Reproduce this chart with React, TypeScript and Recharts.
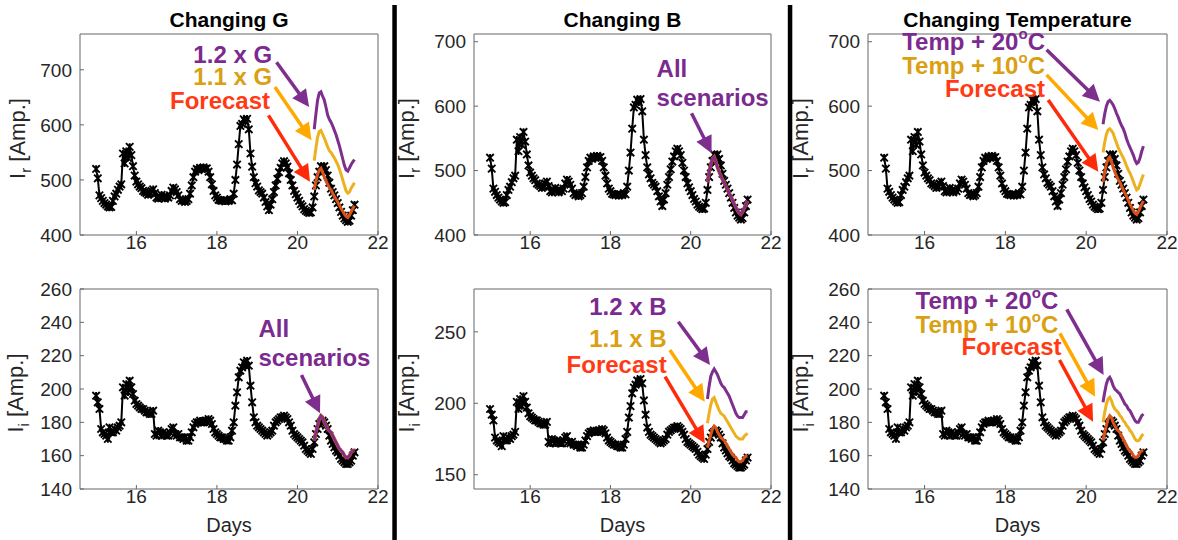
import React from 'react';
import { LineChart, Line, XAxis, YAxis, ReferenceDot, ReferenceLine } from 'recharts';

// ---------------- data ----------------
const START_DAY = 15;
const SAMPLES_PER_DAY = 24;
const FORECAST_START_INDEX = 130;

const X_TICKS = [16, 18, 20, 22];
const IR_TICKS = [400, 500, 600, 700];
const II_TICKS = [140, 160, 180, 200, 220, 240, 260];
const II_TICKS_B = [150, 200, 250];

// measured real current I_r (hourly samples from day 15)
const IR_MEASURED = [
  520, 503, 472, 467, 462, 458, 455, 452, 450, 451, 462, 470, 475, 482, 488, 492, 548, 530, 552, 540, 560, 545, 525, 508,
  497, 492, 488, 485, 480, 478, 476, 473, 475, 480, 483, 476, 468, 466, 470, 473, 468, 466, 470, 468, 472, 480, 486, 483,
  478, 472, 465, 462, 463, 460, 462, 465, 475, 490, 505, 515, 520, 518, 522, 520, 523, 520, 521, 515, 505, 492, 480, 472,
  468, 464, 463, 462, 463, 461, 463, 462, 465, 463, 475, 500, 528, 565, 598, 602, 610, 606, 611, 592, 548, 524, 505, 494,
  488, 481, 478, 475, 468, 460, 452, 445, 455, 465, 478, 490, 502, 514, 522, 530, 534, 530, 524, 512, 500, 490, 480, 474,
  468, 462, 456, 452, 447, 444, 442, 440, 441, 450, 470, 490, 505, 515, 525, 522, 525, 518, 508, 495, 484, 478, 472, 465,
  458, 450, 442, 435, 430, 427, 424, 426, 435, 445, 455,
];

// measured imaginary current I_i
const II_MEASURED = [
  196, 192, 188, 176, 174, 173, 172, 170, 177, 174, 174, 176, 175, 177, 178, 180, 201, 196, 203, 198, 205, 201, 197, 193,
  191, 190, 189, 188, 188, 187, 186, 186, 185, 185, 187, 173, 172, 175, 174, 172, 174, 173, 172, 172, 174, 176, 177, 173,
  172, 173, 171, 171, 170, 171, 169, 169, 171, 174, 177, 179, 180, 180, 181, 180, 180, 181, 180, 182, 181, 179, 176, 174,
  173, 172, 171, 171, 170, 170, 169, 169, 171, 175, 180, 190, 198, 207, 211, 213, 216, 214, 217, 214, 202, 192, 183, 180,
  178, 177, 176, 175, 174, 173, 172, 173, 174, 175, 178, 180, 181, 182, 183, 183, 184, 183, 182, 180, 178, 175, 173, 172,
  171, 170, 169, 168, 166, 164, 163, 162, 161, 164, 168, 173, 176, 179, 180, 181, 180, 178, 176, 172, 169, 167, 165, 163,
  162, 160, 158, 157, 156, 155, 155, 156, 157, 160, 162,
];

// forecast scenarios (hourly, starting at sample FORECAST_START_INDEX)
const IR_FORECAST = [482, 498, 510, 518, 521, 514, 505, 498, 492, 486, 482, 476, 470, 465, 460, 454, 448, 443, 438, 434, 432, 436, 442, 448, 453];
const IR_G11 = [535, 558, 578, 588, 590, 583, 576, 568, 560, 553, 550, 545, 540, 534, 528, 520, 510, 500, 490, 480, 476, 478, 485, 490, 495];
const IR_G12 = [592, 620, 645, 658, 660, 652, 645, 632, 618, 610, 605, 598, 590, 582, 572, 562, 550, 538, 526, 518, 516, 522, 528, 533, 537];
const IR_T10 = [528, 544, 556, 563, 565, 562, 558, 550, 543, 536, 530, 525, 520, 514, 507, 501, 496, 490, 483, 476, 470, 472, 479, 487, 494];
const IR_T20 = [572, 588, 600, 607, 609, 606, 602, 596, 589, 583, 576, 570, 565, 558, 549, 542, 536, 530, 524, 516, 511, 513, 520, 530, 538];
const II_FORECAST = [169, 174, 178, 182, 184, 183, 180, 178, 176, 175, 174, 172, 170, 168, 166, 164, 163, 162, 160, 159, 159, 160, 162, 163, 163];
const II_B11 = [186, 193, 199, 203, 204, 201, 198, 195, 193, 192, 191, 189, 187, 185, 183, 181, 179, 177, 176, 175, 175, 175, 177, 178, 179];
const II_B12 = [203, 212, 219, 222, 224, 222, 220, 217, 214, 212, 211, 209, 207, 205, 202, 199, 196, 193, 191, 190, 190, 190, 192, 194, 194];
const II_T10 = [180, 186, 191, 194, 195, 193, 190, 188, 187, 186, 184, 183, 181, 180, 178, 177, 175, 174, 172, 170, 169, 169, 170, 172, 173];
const II_T20 = [192, 198, 203, 206, 207, 205, 202, 200, 199, 198, 197, 195, 193, 191, 190, 188, 187, 185, 183, 181, 180, 180, 182, 184, 185];

// ---------------- styles ----------------
const FONT = '"Liberation Sans", Arial, Helvetica, sans-serif';
const AXIS = '#666666';
const TICK = '#262626';
const L_PURPLE = '#7E2F8E';
const L_YELLOW = '#EDB120';
const L_FORE = '#D95319';
const T_PURPLE = '#7B2A8F';
const T_GOLD = '#D9A012';
const T_RED = '#FF3A14';
const A_PURPLE = '#7E2F8E';
const A_YELLOW = '#FFA800';
const A_RED = '#FF2A0A';
const X_DOMAIN: [number, number] = [14.6, 22];
const Y_AXIS_W = 80;
const RIGHT_PAD = 12;

type Pt = { day: number; v: number };
const toMeasured = (vals: number[]): Pt[] => vals.map((v, i) => ({ day: START_DAY + i / SAMPLES_PER_DAY, v }));
const toForecast = (vals: number[]): Pt[] =>
  vals.map((v, i) => ({ day: START_DAY + (FORECAST_START_INDEX + i) / SAMPLES_PER_DAY, v }));

type Note = { x: number; y: number; anchor: 'start' | 'end'; color: string; text: string; sup?: string; tail?: string };
type Arrow = { x1: number; y1: number; x2: number; y2: number; color: string };
type Series = { data: Pt[]; color: string; width: number };

const renderStar = (props: any) => {
  const { cx, cy, index } = props;
  if (typeof cx !== 'number' || typeof cy !== 'number') return <g key={`s-${index}`} />;
  const s = 3.7;
  const d = `M${cx - s} ${cy - s}L${cx + s} ${cy + s}M${cx - s} ${cy + s}L${cx + s} ${cy - s}M${cx} ${cy - s}L${cx} ${cy + s}`;
  return <path key={`s-${index}`} d={d} stroke="#000" strokeWidth={1.9} fill="none" />;
};

const makeArrow = (color: string) => (props: any) => {
  const { x1, y1, x2, y2 } = props;
  if (![x1, y1, x2, y2].every((n) => typeof n === 'number' && isFinite(n))) return <g />;
  const dx = x2 - x1;
  const dy = y2 - y1;
  const len = Math.hypot(dx, dy) || 1;
  const ux = dx / len;
  const uy = dy / len;
  const L = 17;
  const W = 8.5;
  const bx = x2 - ux * L;
  const by = y2 - uy * L;
  const nx = -uy;
  const ny = ux;
  return (
    <g>
      <line x1={x1} y1={y1} x2={bx + ux * 2} y2={by + uy * 2} stroke={color} strokeWidth={3.5} />
      <path d={`M${x2} ${y2}L${bx + nx * W} ${by + ny * W}L${bx - nx * W} ${by - ny * W}Z`} fill={color} />
    </g>
  );
};

const makeText = (a: Note) => (props: any) => {
  const { cx, cy } = props;
  if (typeof cx !== 'number' || typeof cy !== 'number') return <g />;
  return (
    <text x={cx} y={cy} textAnchor={a.anchor} fontFamily={FONT} fontWeight="bold" fontSize={24} fill={a.color}>
      {a.text}
      {a.sup ? (
        <tspan dy={-11} fontSize={15}>
          {a.sup}
        </tspan>
      ) : null}
      {a.tail ? <tspan dy={a.sup ? 11 : 0}>{a.tail}</tspan> : null}
    </text>
  );
};

const yLabel = (sub: string, gap: number) => (props: any) => {
  const vb = props.viewBox || {};
  const x = (vb.x ?? 0) + (vb.width ?? Y_AXIS_W) - gap;
  const y = (vb.y ?? 0) + (vb.height ?? 0) / 2 + 4;
  return (
    <text x={x} y={y} transform={`rotate(-90, ${x}, ${y})`} textAnchor="middle" fontFamily={FONT} fontSize={22} fill={TICK}>
      I
      <tspan dy={6} fontSize={15}>
        {sub}
      </tspan>
      <tspan dy={-6}> [Amp.]</tspan>
    </text>
  );
};

type PanelCfg = {
  left: number;
  top: number;
  plotW: number;
  height: number;
  marginTop: number;
  xAxisH: number;
  yDomain: [number, number];
  yTicks: number[];
  sub: string;
  labelGap: number;
  days: boolean;
  measured: Pt[];
  lines: Series[];
  notes: Note[];
  arrows: Arrow[];
};

const irMeas = toMeasured(IR_MEASURED);
const iiMeas = toMeasured(II_MEASURED);

const PANELS: PanelCfg[] = [
  {
    left: 0, top: 0, plotW: 298, height: 260, marginTop: 33, xAxisH: 25,
    yDomain: [400, 765], yTicks: IR_TICKS, sub: 'r', labelGap: 55, days: false, measured: irMeas,
    lines: [
      { data: toForecast(IR_FORECAST), color: L_FORE, width: 3 },
      { data: toForecast(IR_G11), color: L_YELLOW, width: 3 },
      { data: toForecast(IR_G12), color: L_PURPLE, width: 3 },
    ],
    notes: [
      { x: 19.37, y: 711.5, anchor: 'end', color: T_PURPLE, text: '1.2 x G' },
      { x: 19.37, y: 671.6, anchor: 'end', color: T_GOLD, text: '1.1 x G' },
      { x: 19.32, y: 628, anchor: 'end', color: T_RED, text: 'Forecast' },
    ],
    arrows: [
      { x1: 19.48, y1: 713.8, x2: 20.29, y2: 632.3, color: A_PURPLE },
      { x1: 19.44, y1: 668.6, x2: 20.35, y2: 572, color: A_YELLOW },
      { x1: 19.28, y1: 617.3, x2: 20.31, y2: 496.5, color: A_RED },
    ],
  },
  {
    left: 394, top: 0, plotW: 297, height: 260, marginTop: 33, xAxisH: 25,
    yDomain: [400, 712], yTicks: IR_TICKS, sub: 'r', labelGap: 60, days: false, measured: irMeas,
    lines: [
      { data: toForecast(IR_FORECAST), color: L_FORE, width: 3.6 },
      { data: toForecast(IR_FORECAST), color: L_PURPLE, width: 2.6 },
    ],
    notes: [
      { x: 19.15, y: 645.9, anchor: 'start', color: T_PURPLE, text: 'All' },
      { x: 19.15, y: 600.4, anchor: 'start', color: T_PURPLE, text: 'scenarios' },
    ],
    arrows: [{ x1: 20.02, y1: 589, x2: 20.52, y2: 527, color: A_PURPLE }],
  },
  {
    left: 788, top: 0, plotW: 299, height: 260, marginTop: 33, xAxisH: 25,
    yDomain: [400, 712], yTicks: IR_TICKS, sub: 'r', labelGap: 60, days: false, measured: irMeas,
    lines: [
      { data: toForecast(IR_FORECAST), color: L_FORE, width: 3 },
      { data: toForecast(IR_T10), color: L_YELLOW, width: 3 },
      { data: toForecast(IR_T20), color: L_PURPLE, width: 3 },
    ],
    notes: [
      { x: 18.98, y: 687.4, anchor: 'end', color: T_PURPLE, text: 'Temp + 20', sup: 'o', tail: 'C' },
      { x: 18.98, y: 650, anchor: 'end', color: T_GOLD, text: 'Temp + 10', sup: 'o', tail: 'C' },
      { x: 18.98, y: 613.9, anchor: 'end', color: T_RED, text: 'Forecast' },
    ],
    arrows: [
      { x1: 19.02, y1: 687.4, x2: 20.34, y2: 607, color: A_PURPLE },
      { x1: 19.02, y1: 648.5, x2: 20.3, y2: 563, color: A_YELLOW },
      { x1: 19.06, y1: 609.7, x2: 20.3, y2: 498, color: A_RED },
    ],
  },
  {
    left: 0, top: 260, plotW: 298, height: 280, marginTop: 28, xAxisH: 51,
    yDomain: [140, 260], yTicks: II_TICKS, sub: 'i', labelGap: 57, days: true, measured: iiMeas,
    lines: [
      { data: toForecast(II_FORECAST), color: L_FORE, width: 3.6 },
      { data: toForecast(II_FORECAST), color: L_PURPLE, width: 2.6 },
    ],
    notes: [
      { x: 19.03, y: 231.4, anchor: 'start', color: T_PURPLE, text: 'All' },
      { x: 19.03, y: 213.8, anchor: 'start', color: T_PURPLE, text: 'scenarios' },
    ],
    arrows: [{ x1: 20.1, y1: 208.4, x2: 20.56, y2: 185.4, color: A_PURPLE }],
  },
  {
    left: 394, top: 260, plotW: 297, height: 280, marginTop: 28, xAxisH: 51,
    yDomain: [140, 280], yTicks: II_TICKS_B, sub: 'i', labelGap: 60, days: true, measured: iiMeas,
    lines: [
      { data: toForecast(II_FORECAST), color: L_FORE, width: 3 },
      { data: toForecast(II_B11), color: L_YELLOW, width: 3 },
      { data: toForecast(II_B12), color: L_PURPLE, width: 3 },
    ],
    notes: [
      { x: 19.4, y: 261.8, anchor: 'end', color: T_PURPLE, text: '1.2 x B' },
      { x: 19.4, y: 239.2, anchor: 'end', color: T_GOLD, text: '1.1 x B' },
      { x: 19.4, y: 221, anchor: 'end', color: T_RED, text: 'Forecast' },
    ],
    arrows: [
      { x1: 19.69, y1: 257.1, x2: 20.48, y2: 226.8, color: A_PURPLE },
      { x1: 19.48, y1: 237.3, x2: 20.35, y2: 201.1, color: A_YELLOW },
      { x1: 19.36, y1: 218.6, x2: 20.35, y2: 172, color: A_RED },
    ],
  },
  {
    left: 788, top: 260, plotW: 299, height: 280, marginTop: 28, xAxisH: 51,
    yDomain: [140, 260], yTicks: II_TICKS, sub: 'i', labelGap: 60, days: true, measured: iiMeas,
    lines: [
      { data: toForecast(II_FORECAST), color: L_FORE, width: 3 },
      { data: toForecast(II_T10), color: L_YELLOW, width: 3 },
      { data: toForecast(II_T20), color: L_PURPLE, width: 3 },
    ],
    notes: [
      { x: 19.31, y: 247.8, anchor: 'end', color: T_PURPLE, text: 'Temp + 20', sup: 'o', tail: 'C' },
      { x: 19.31, y: 233.8, anchor: 'end', color: T_GOLD, text: 'Temp + 10', sup: 'o', tail: 'C' },
      { x: 19.39, y: 220.4, anchor: 'end', color: T_RED, text: 'Forecast' },
    ],
    arrows: [
      { x1: 19.52, y1: 247.8, x2: 20.43, y2: 208.4, color: A_PURPLE },
      { x1: 19.35, y1: 233.4, x2: 20.22, y2: 195.4, color: A_YELLOW },
      { x1: 19.34, y1: 217.4, x2: 20.17, y2: 180.4, color: A_RED },
    ],
  },
];

const TITLES = [
  { text: 'Changing G', x: 229 },
  { text: 'Changing B', x: 622.5 },
  { text: 'Changing Temperature', x: 1017.5 },
];

function Panel({ cfg }: { cfg: PanelCfg }) {
  const width = Y_AXIS_W + cfg.plotW + 1 + RIGHT_PAD;
  const tickStyle = { fill: TICK, fontSize: 19, fontFamily: FONT };
  const margin = { top: cfg.marginTop, right: RIGHT_PAD, bottom: 0, left: 0 };
  return (
    <div style={{ position: 'absolute', left: cfg.left, top: cfg.top, width, height: cfg.height }}>
      {/* base layer: axes box + measured series */}
      <div style={{ position: 'absolute', left: 0, top: 0 }}>
        <LineChart width={width} height={cfg.height} margin={margin}>
          <XAxis
            xAxisId="b"
            type="number"
            dataKey="day"
            domain={X_DOMAIN}
            ticks={X_TICKS}
            interval={0}
            tickSize={-4}
            tickMargin={5}
            height={cfg.xAxisH}
            stroke={AXIS}
            tick={tickStyle}
            label={cfg.days ? { value: 'Days', position: 'insideBottom', offset: 8, fill: TICK, fontSize: 20, fontFamily: FONT } : undefined}
          />
          <XAxis xAxisId="t" orientation="top" type="number" dataKey="day" domain={X_DOMAIN} ticks={X_TICKS} interval={0} tickSize={-4} tick={false} height={1} stroke={AXIS} />
          <YAxis
            yAxisId="l"
            type="number"
            domain={cfg.yDomain}
            ticks={cfg.yTicks}
            interval={0}
            tickSize={-4}
            tickMargin={12}
            width={Y_AXIS_W}
            stroke={AXIS}
            tick={tickStyle}
            label={{ content: yLabel(cfg.sub, cfg.labelGap) } as any}
          />
          <YAxis yAxisId="r" orientation="right" type="number" domain={cfg.yDomain} ticks={cfg.yTicks} interval={0} tickSize={-4} tick={false} width={1} stroke={AXIS} />
          <Line
            xAxisId="b"
            yAxisId="l"
            data={cfg.measured}
            dataKey="v"
            stroke="#000"
            strokeWidth={2}
            dot={renderStar}
            activeDot={false}
            isAnimationActive={false}
          />
        </LineChart>
      </div>
      {/* overlay layer: scenario lines, arrows and annotations (same geometry, invisible axes) */}
      <div style={{ position: 'absolute', left: 0, top: 0 }}>
        <LineChart width={width} height={cfg.height} margin={margin}>
          <XAxis xAxisId="b" type="number" dataKey="day" domain={X_DOMAIN} ticks={X_TICKS} height={cfg.xAxisH} axisLine={false} tickLine={false} tick={false} />
          <XAxis xAxisId="t" orientation="top" type="number" dataKey="day" domain={X_DOMAIN} height={1} axisLine={false} tickLine={false} tick={false} />
          <YAxis yAxisId="l" type="number" domain={cfg.yDomain} ticks={cfg.yTicks} width={Y_AXIS_W} axisLine={false} tickLine={false} tick={false} />
          <YAxis yAxisId="r" orientation="right" type="number" domain={cfg.yDomain} width={1} axisLine={false} tickLine={false} tick={false} />
          {cfg.lines.map((s, i) => (
            <Line
              key={`ln-${i}`}
              xAxisId="b"
              yAxisId="l"
              data={s.data}
              dataKey="v"
              stroke={s.color}
              strokeWidth={s.width}
              dot={false}
              activeDot={false}
              isAnimationActive={false}
            />
          ))}
          {cfg.arrows.map((a, i) => (
            <ReferenceLine
              key={`ar-${i}`}
              xAxisId="b"
              yAxisId="l"
              segment={[{ x: a.x1, y: a.y1 }, { x: a.x2, y: a.y2 }]}
              shape={makeArrow(a.color)}
              ifOverflow="visible"
            />
          ))}
          {cfg.notes.map((n, i) => (
            <ReferenceDot key={`nt-${i}`} xAxisId="b" yAxisId="l" x={n.x} y={n.y} r={0} shape={makeText(n)} ifOverflow="visible" />
          ))}
        </LineChart>
      </div>
    </div>
  );
}

export default function App() {
  return (
    <div style={{ position: 'absolute', left: 0, top: 0, width: 1178, height: 540, overflow: 'hidden', background: '#fff' }}>
      {PANELS.map((p, i) => (
        <Panel key={i} cfg={p} />
      ))}
      <svg width={1178} height={540} style={{ position: 'absolute', left: 0, top: 0, pointerEvents: 'none' }}>
        {TITLES.map((t) => (
          <text key={t.text} x={t.x} y={27} textAnchor="middle" fontFamily={FONT} fontWeight="bold" fontSize={21} fill="#000">
            {t.text}
          </text>
        ))}
        <rect x={392.3} y={5} width={4.5} height={535} fill="#000" />
        <rect x={787.8} y={5} width={4.5} height={535} fill="#000" />
      </svg>
    </div>
  );
}
